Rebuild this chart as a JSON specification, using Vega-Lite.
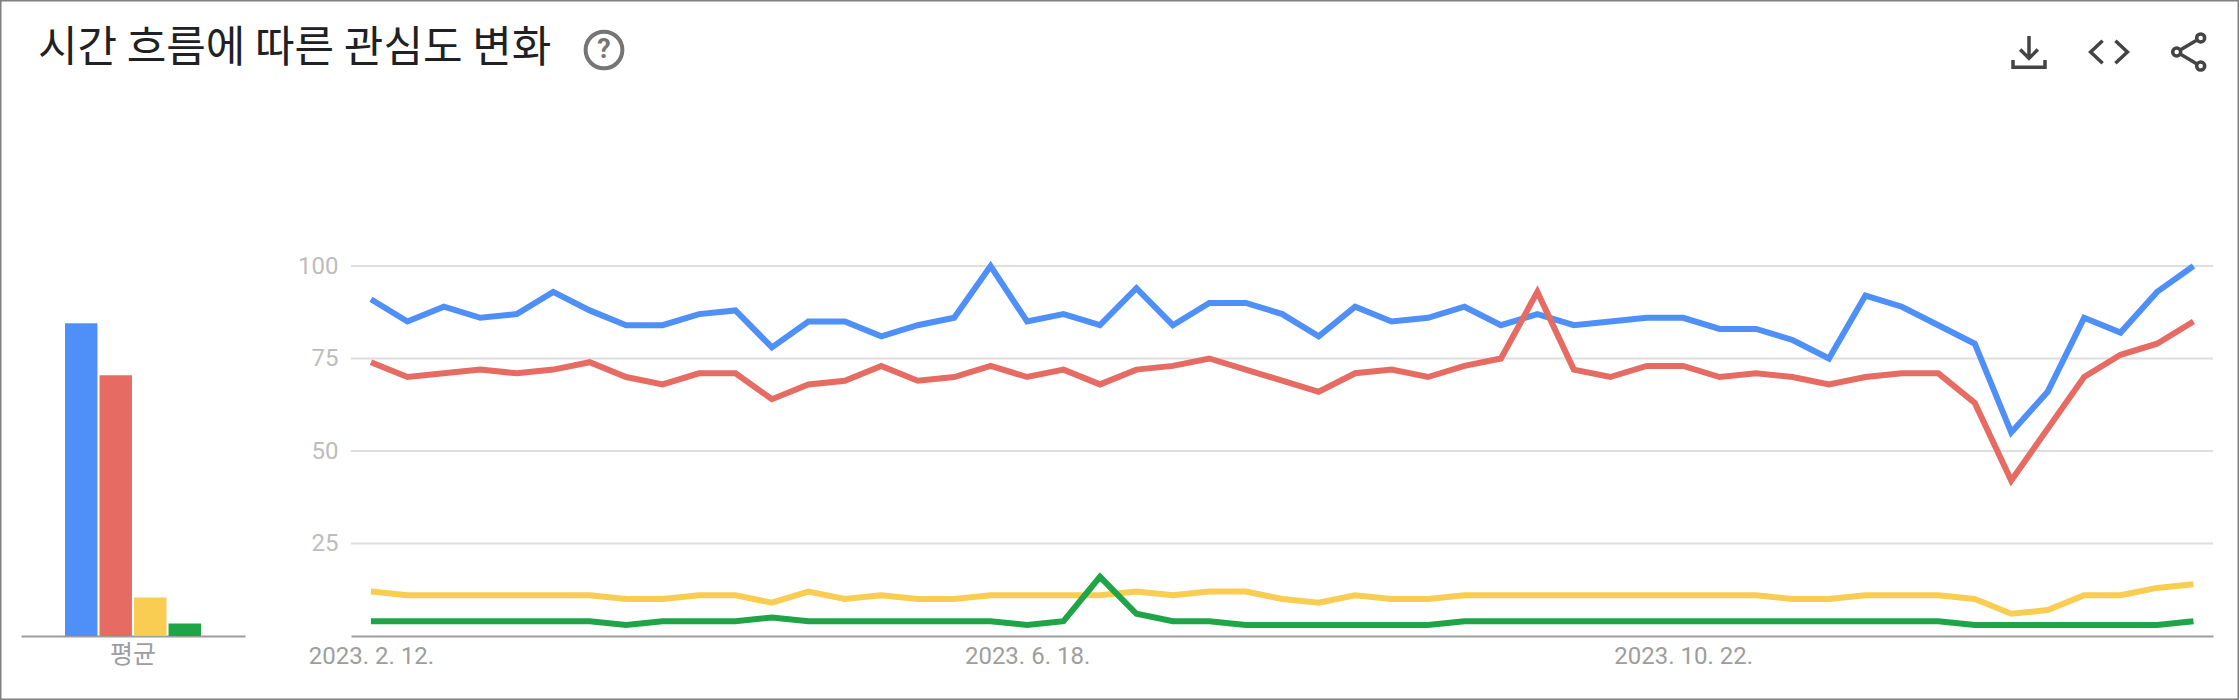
{"$schema":"https://vega.github.io/schema/vega-lite/v6.json","width":2239,"height":700,"autosize":{"type":"none"},"padding":0,"background":"#ffffff","view":{"stroke":"#808080","strokeWidth":3,"fill":"#ffffff"},"config":{"font":"Roboto"},"title":{"text":"시간 흐름에 따른 관심도 변화","anchor":"start","frame":"group","offset":0,"dx":38,"dy":105,"baseline":"alphabetic","font":"Noto Sans CJK KR","fontSize":43,"fontWeight":"normal","color":"#202124","limit":0,"lineHeight":48},"datasets":{"weekly":[{"date":"2023-02-12T00:00:00","A":91,"B":74,"C":12,"D":4},{"date":"2023-02-19T00:00:00","A":85,"B":70,"C":11,"D":4},{"date":"2023-02-26T00:00:00","A":89,"B":71,"C":11,"D":4},{"date":"2023-03-05T00:00:00","A":86,"B":72,"C":11,"D":4},{"date":"2023-03-12T00:00:00","A":87,"B":71,"C":11,"D":4},{"date":"2023-03-19T00:00:00","A":93,"B":72,"C":11,"D":4},{"date":"2023-03-26T00:00:00","A":88,"B":74,"C":11,"D":4},{"date":"2023-04-02T00:00:00","A":84,"B":70,"C":10,"D":3},{"date":"2023-04-09T00:00:00","A":84,"B":68,"C":10,"D":4},{"date":"2023-04-16T00:00:00","A":87,"B":71,"C":11,"D":4},{"date":"2023-04-23T00:00:00","A":88,"B":71,"C":11,"D":4},{"date":"2023-04-30T00:00:00","A":78,"B":64,"C":9,"D":5},{"date":"2023-05-07T00:00:00","A":85,"B":68,"C":12,"D":4},{"date":"2023-05-14T00:00:00","A":85,"B":69,"C":10,"D":4},{"date":"2023-05-21T00:00:00","A":81,"B":73,"C":11,"D":4},{"date":"2023-05-28T00:00:00","A":84,"B":69,"C":10,"D":4},{"date":"2023-06-04T00:00:00","A":86,"B":70,"C":10,"D":4},{"date":"2023-06-11T00:00:00","A":100,"B":73,"C":11,"D":4},{"date":"2023-06-18T00:00:00","A":85,"B":70,"C":11,"D":3},{"date":"2023-06-25T00:00:00","A":87,"B":72,"C":11,"D":4},{"date":"2023-07-02T00:00:00","A":84,"B":68,"C":11,"D":16},{"date":"2023-07-09T00:00:00","A":94,"B":72,"C":12,"D":6},{"date":"2023-07-16T00:00:00","A":84,"B":73,"C":11,"D":4},{"date":"2023-07-23T00:00:00","A":90,"B":75,"C":12,"D":4},{"date":"2023-07-30T00:00:00","A":90,"B":72,"C":12,"D":3},{"date":"2023-08-06T00:00:00","A":87,"B":69,"C":10,"D":3},{"date":"2023-08-13T00:00:00","A":81,"B":66,"C":9,"D":3},{"date":"2023-08-20T00:00:00","A":89,"B":71,"C":11,"D":3},{"date":"2023-08-27T00:00:00","A":85,"B":72,"C":10,"D":3},{"date":"2023-09-03T00:00:00","A":86,"B":70,"C":10,"D":3},{"date":"2023-09-10T00:00:00","A":89,"B":73,"C":11,"D":4},{"date":"2023-09-17T00:00:00","A":84,"B":75,"C":11,"D":4},{"date":"2023-09-24T00:00:00","A":87,"B":93,"C":11,"D":4},{"date":"2023-10-01T00:00:00","A":84,"B":72,"C":11,"D":4},{"date":"2023-10-08T00:00:00","A":85,"B":70,"C":11,"D":4},{"date":"2023-10-15T00:00:00","A":86,"B":73,"C":11,"D":4},{"date":"2023-10-22T00:00:00","A":86,"B":73,"C":11,"D":4},{"date":"2023-10-29T00:00:00","A":83,"B":70,"C":11,"D":4},{"date":"2023-11-05T00:00:00","A":83,"B":71,"C":11,"D":4},{"date":"2023-11-12T00:00:00","A":80,"B":70,"C":10,"D":4},{"date":"2023-11-19T00:00:00","A":75,"B":68,"C":10,"D":4},{"date":"2023-11-26T00:00:00","A":92,"B":70,"C":11,"D":4},{"date":"2023-12-03T00:00:00","A":89,"B":71,"C":11,"D":4},{"date":"2023-12-10T00:00:00","A":84,"B":71,"C":11,"D":4},{"date":"2023-12-17T00:00:00","A":79,"B":63,"C":10,"D":3},{"date":"2023-12-24T00:00:00","A":55,"B":42,"C":6,"D":3},{"date":"2023-12-31T00:00:00","A":66,"B":56,"C":7,"D":3},{"date":"2024-01-07T00:00:00","A":86,"B":70,"C":11,"D":3},{"date":"2024-01-14T00:00:00","A":82,"B":76,"C":11,"D":3},{"date":"2024-01-21T00:00:00","A":93,"B":79,"C":13,"D":3},{"date":"2024-01-28T00:00:00","A":100,"B":85,"C":14,"D":4}],"gridlines":[{"level":25,"from":"2023-02-08T04:00:00","to":"2024-01-31T18:00:00"},{"level":50,"from":"2023-02-08T04:00:00","to":"2024-01-31T18:00:00"},{"level":75,"from":"2023-02-08T04:00:00","to":"2024-01-31T18:00:00"},{"level":100,"from":"2023-02-08T04:00:00","to":"2024-01-31T18:00:00"}],"averages":[{"group":"평균","series":"A","value":84.5},{"group":"평균","series":"B","value":70.5},{"group":"평균","series":"C","value":10.4},{"group":"평균","series":"D","value":3.4}],"toolbar":[{"icon":"download"},{"icon":"code"},{"icon":"share"}],"help":[{"icon":"help","glyph":"?"}]},"resolve":{"scale":{"x":"independent","y":"independent","color":"independent","shape":"independent"},"axis":{"x":"independent","y":"independent"}},"layer":[{"layer":[{"data":{"name":"gridlines"},"mark":{"type":"rule","color":"#dedede","strokeWidth":2},"encoding":{"x":{"field":"from","type":"temporal","scale":{"domain":[{"year":2023,"month":2,"date":8,"hours":4},{"year":2024,"month":1,"date":31,"hours":18}],"range":[351,2213]},"axis":{"orient":"bottom","values":[{"year":2023,"month":2,"date":12},{"year":2023,"month":6,"date":18},{"year":2023,"month":10,"date":22}],"format":"%Y. %-m. %-d.","title":null,"grid":false,"ticks":false,"offset":-64,"domainColor":"#9e9e9e","domainWidth":2,"labelColor":"#9e9e9e","labelFont":"Roboto","labelFontSize":24,"labelPadding":8,"labelOverlap":false,"labelFlush":false}},"x2":{"field":"to"},"y":{"field":"level","type":"quantitative","scale":{"domain":[0,100],"range":[636,266]},"axis":{"values":[25,50,75,100],"title":null,"grid":false,"ticks":false,"domain":false,"orient":"left","offset":-338,"labelPadding":0,"labelColor":"#bdbdbd","labelFont":"Roboto","labelFontSize":24}}}},{"data":{"name":"weekly"},"transform":[{"fold":["A","B","C","D"],"as":["series","interest"]}],"mark":{"type":"line","strokeWidth":6,"strokeJoin":"miter","strokeCap":"butt"},"encoding":{"x":{"field":"date","type":"temporal"},"y":{"field":"interest","type":"quantitative"},"color":{"field":"series","type":"nominal","scale":{"domain":["A","B","C","D"],"range":["#4F8FF8","#E66B63","#F9CC52","#1FA547"]},"legend":null}}}]},{"data":{"name":"averages"},"mark":{"type":"bar"},"encoding":{"x":{"field":"group","type":"nominal","scale":{"range":[21,245],"paddingInner":0,"paddingOuter":0},"axis":{"orient":"bottom","title":null,"ticks":false,"offset":-64,"labelAngle":0,"domainColor":"#9e9e9e","domainWidth":2,"labelColor":"#9e9e9e","labelFont":"Noto Sans CJK KR","labelFontSize":25,"labelPadding":6}},"xOffset":{"field":"series","type":"nominal","scale":{"domain":["A","B","C","D"],"range":[44,180],"paddingInner":0.06,"paddingOuter":0}},"y":{"field":"value","type":"quantitative","scale":{"domain":[0,100],"range":[636,266]},"axis":null},"color":{"field":"series","type":"nominal","scale":{"domain":["A","B","C","D"],"range":["#4F8FF8","#E66B63","#F9CC52","#1FA547"]},"legend":null}}},{"data":{"name":"toolbar"},"mark":{"type":"point","filled":false,"strokeWidth":3.5,"color":"#444444","size":1024,"opacity":1},"encoding":{"x":{"field":"icon","type":"nominal","sort":null,"scale":{"type":"point","domain":["download","code","share"],"range":[2029,2189],"padding":0},"axis":null},"y":{"field":"icon","type":"nominal","scale":{"type":"point","domain":["download","code","share"],"range":[52,52],"padding":0},"axis":null},"shape":{"field":"icon","type":"nominal","scale":{"domain":["download","code","share"],"range":["M0,-1 L0,0.35 M-0.55,-0.15 L0,0.4 L0.55,-0.15 M-1,0.5 L-1,0.95 L1,0.95 L1,0.5","M-0.4,-0.7 L-1.15,0 L-0.4,0.7 M0.4,-0.7 L1.15,0 L0.4,0.7","M0.98,-0.88 A0.25,0.25 0 1 1 0.48,-0.88 A0.25,0.25 0 1 1 0.98,-0.88 M0.98,0.88 A0.25,0.25 0 1 1 0.48,0.88 A0.25,0.25 0 1 1 0.98,0.88 M-0.52,0 A0.25,0.25 0 1 1 -1.02,0 A0.25,0.25 0 1 1 -0.52,0 M-0.55,-0.13 L0.5,-0.75 M-0.55,0.13 L0.5,0.75"]},"legend":null}}},{"data":{"name":"help"},"layer":[{"mark":{"type":"point","shape":"circle","filled":false,"strokeWidth":4,"color":"#757575","size":1350,"opacity":1}},{"mark":{"type":"text","font":"Roboto","fontSize":27,"fontWeight":"bold","color":"#757575"},"encoding":{"text":{"field":"glyph"}}}],"encoding":{"x":{"field":"icon","type":"nominal","scale":{"type":"point","domain":["help"],"range":[604,604],"padding":0},"axis":null},"y":{"field":"icon","type":"nominal","scale":{"type":"point","domain":["help"],"range":[50,50],"padding":0},"axis":null}}}]}
